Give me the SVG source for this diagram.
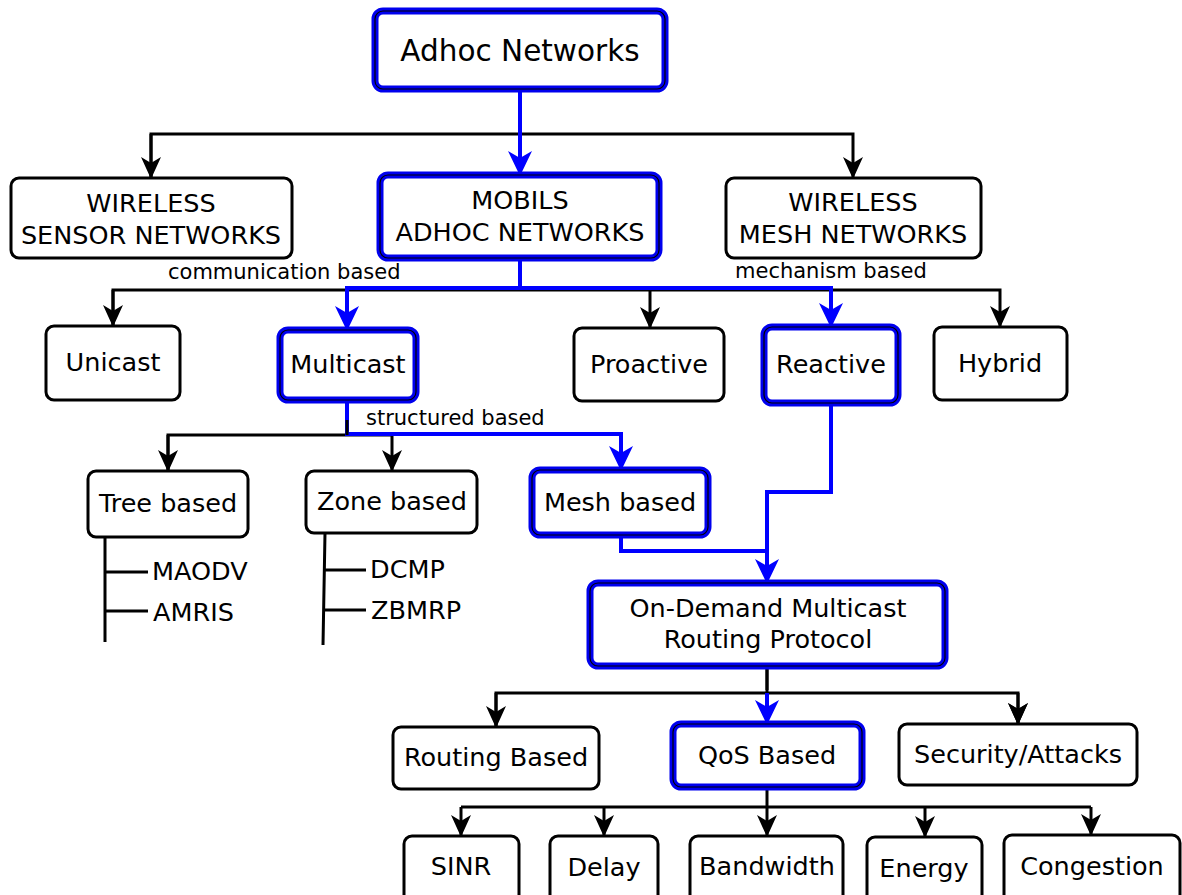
<svg xmlns="http://www.w3.org/2000/svg" width="1182" height="895" viewBox="0 0 1182 895">
<style>
.n rect{fill:#fff;stroke:#000;stroke-width:3}
.b rect.o{fill:#fff;stroke:#0000ee;stroke-width:7}
.b rect.i{fill:none;stroke:#000;stroke-width:1.2}
text{font-family:"DejaVu Sans",sans-serif;fill:#000;text-anchor:middle}
.t{font-size:25.5px}
.s{font-size:21px;text-anchor:start}
.k{fill:none;stroke:#000;stroke-width:3}
.bl{fill:none;stroke:#0000ff;stroke-width:4}
</style>
<defs>
<marker id="ak" markerWidth="20" markerHeight="22" refX="10" refY="21" orient="0" markerUnits="userSpaceOnUse" viewBox="0 0 20 22">
<path d="M0,0 L10,6 L20,0 L10,22 Z" fill="#000"/>
</marker>
<marker id="ab" markerWidth="24" markerHeight="25" refX="12" refY="24" orient="0" markerUnits="userSpaceOnUse" viewBox="0 0 24 25">
<path d="M0,0 L12,7 L24,0 L12,25 Z" fill="#0000ff"/>
</marker>
</defs>
<g id="connectors">
<path class="k" d="M151,178 V134 H853 V178" marker-end="url(#ak)"/>
<path class="k" d="M151,134 V178" marker-end="url(#ak)"/>
<path class="k" d="M113,326 V290 H1000 V327" marker-end="url(#ak)"/>
<path class="k" d="M113,290 V326" marker-end="url(#ak)"/>
<path class="k" d="M650,290 V328" marker-end="url(#ak)"/>
<path class="k" d="M168,471 V435 H392 V471" marker-end="url(#ak)"/>
<path class="k" d="M168,435 V471" marker-end="url(#ak)"/>
<path class="k" d="M105,537 V642 M105,572 H148 M105,611 H148"/>
<path class="k" d="M325,533 L323,645 M325,570 H366 M324,610 H366"/>
<path class="k" d="M767,666 V693"/>
<path class="k" d="M496,727 V693 H1018 V724" marker-end="url(#ak)"/>
<path class="k" d="M1018,693 V724" marker-end="url(#ak)"/>
<path class="k" d="M496,693 V727" marker-end="url(#ak)"/>
<path class="k" d="M767,787 V807"/>
<path class="k" d="M461,807 H1091"/>
<path class="k" d="M461,807 V836" marker-end="url(#ak)"/>
<path class="k" d="M604,807 V836" marker-end="url(#ak)"/>
<path class="k" d="M767,807 V836" marker-end="url(#ak)"/>
<path class="k" d="M925,807 V837" marker-end="url(#ak)"/>
<path class="k" d="M1091,807 V835" marker-end="url(#ak)"/>
<path class="bl" d="M520,89 V175" stroke-width="6" marker-end="url(#ab)"/>
<path class="bl" d="M520,258 V288 H347 V330" marker-end="url(#ab)"/>
<path class="bl" d="M520,288 H831 V327" marker-end="url(#ab)"/>
<path class="bl" d="M347,400 V434 H621 V470" marker-end="url(#ab)"/>
<path class="bl" d="M831,403 V492 H767 V583" marker-end="url(#ab)"/>
<path class="bl" d="M621,535 V551 H767"/>
<path class="bl" d="M767,693 V724" marker-end="url(#ab)"/>
<path class="k" d="M347,420 V435 M767,666 V690"/>
<text class="s" x="168" y="279">communication based</text>
<text class="s" x="735" y="278">mechanism based</text>
<text class="s" x="366" y="425">structured based</text>
</g>
<g id="adhoc" class="b"><rect class="o" x="375" y="11" width="290" height="78" rx="8"/><rect class="i" x="375" y="11" width="290" height="78" rx="8"/><text x="520" y="61" style="font-size:29.5px">Adhoc Networks</text></g>
<g id="wsn" class="n"><rect x="11" y="178" width="281" height="80" rx="8"/><text class="t" x="151" y="212">WIRELESS</text><text class="t" x="151" y="244">SENSOR NETWORKS</text></g>
<g id="manet" class="b"><rect class="o" x="380" y="175" width="279" height="83" rx="8"/><rect class="i" x="380" y="175" width="279" height="83" rx="8"/><text class="t" x="520" y="209">MOBILS</text><text class="t" x="520" y="241">ADHOC NETWORKS</text></g>
<g id="wmn" class="n"><rect x="726" y="178" width="255" height="80" rx="8"/><text class="t" x="853" y="211">WIRELESS</text><text class="t" x="853" y="243">MESH NETWORKS</text></g>
<g id="unicast" class="n"><rect x="46" y="326" width="134" height="74" rx="8"/><text class="t" x="113" y="371">Unicast</text></g>
<g id="multicast" class="b"><rect class="o" x="280" y="330" width="136" height="70" rx="8"/><rect class="i" x="280" y="330" width="136" height="70" rx="8"/><text class="t" x="348" y="373">Multicast</text></g>
<g id="proactive" class="n"><rect x="574" y="328" width="150" height="73" rx="8"/><text class="t" x="649" y="373">Proactive</text></g>
<g id="reactive" class="b"><rect class="o" x="764" y="327" width="134" height="76" rx="8"/><rect class="i" x="764" y="327" width="134" height="76" rx="8"/><text class="t" x="831" y="373">Reactive</text></g>
<g id="hybrid" class="n"><rect x="934" y="327" width="133" height="73" rx="8"/><text class="t" x="1000" y="372">Hybrid</text></g>
<g id="tree" class="n"><rect x="88" y="471" width="160" height="66" rx="8"/><text class="t" x="168" y="512">Tree based</text><text class="t" x="152" y="580" style="text-anchor:start">MAODV</text><text class="t" x="153" y="621" style="text-anchor:start">AMRIS</text></g>
<g id="zone" class="n"><rect x="306" y="471" width="171" height="62" rx="8"/><text class="t" x="392" y="510">Zone based</text><text class="t" x="370" y="578" style="text-anchor:start">DCMP</text><text class="t" x="371" y="619" style="text-anchor:start">ZBMRP</text></g>
<g id="mesh" class="b"><rect class="o" x="532" y="470" width="176" height="65" rx="8"/><rect class="i" x="532" y="470" width="176" height="65" rx="8"/><text class="t" x="620" y="511">Mesh based</text></g>
<g id="odmrp" class="b"><rect class="o" x="590" y="583" width="355" height="83" rx="8"/><rect class="i" x="590" y="583" width="355" height="83" rx="8"/><text class="t" x="768" y="617">On-Demand Multicast</text><text class="t" x="768" y="648">Routing Protocol</text></g>
<g id="routing" class="n"><rect x="393" y="727" width="206" height="62" rx="8"/><text class="t" x="496" y="766">Routing Based</text></g>
<g id="qos" class="b"><rect class="o" x="673" y="724" width="189" height="63" rx="8"/><rect class="i" x="673" y="724" width="189" height="63" rx="8"/><text class="t" x="767" y="764">QoS Based</text></g>
<g id="security" class="n"><rect x="899" y="724" width="238" height="61" rx="8"/><text class="t" x="1018" y="763">Security/Attacks</text></g>
<g id="sinr" class="n"><rect x="404" y="836" width="115" height="70" rx="8"/><text class="t" x="461" y="875">SINR</text></g>
<g id="delay" class="n"><rect x="550" y="836" width="108" height="70" rx="8"/><text class="t" x="604" y="876">Delay</text></g>
<g id="bandwidth" class="n"><rect x="690" y="836" width="153" height="70" rx="8"/><text class="t" x="767" y="875">Bandwidth</text></g>
<g id="energy" class="n"><rect x="867" y="837" width="115" height="70" rx="8"/><text class="t" x="924" y="877">Energy</text></g>
<g id="congestion" class="n"><rect x="1004" y="835" width="176" height="70" rx="8"/><text class="t" x="1092" y="875">Congestion</text></g>
</svg>
